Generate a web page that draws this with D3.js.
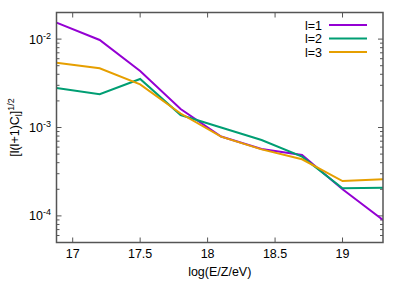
<!DOCTYPE html>
<html>
<head>
<meta charset="utf-8">
<script src="https://cdn.jsdelivr.net/npm/d3@7"></script>
<style>
  body { margin: 0; background: #fff; }
  text { font-family: "Liberation Sans", Arial, sans-serif; fill: #000; }
</style>
</head>
<body>
<script>
// energy bins, log10(E/Z/eV)
let energies = [16.88, 17.2, 17.5, 17.8, 18.1, 18.4, 18.7, 19.0, 19.3]
let l1 = [0.01535, 0.00977, 0.00436, 0.00162, 0.00079, 0.00057, 0.000489, 0.000200, 0.0000900]
let l2 = [0.00280, 0.00238, 0.00354, 0.001385, 0.00100, 0.000722, 0.000468, 0.000205, 0.000208]
let l3 = [0.00541, 0.00468, 0.00308, 0.00144, 0.000787, 0.000566, 0.000437, 0.000248, 0.000260]
let seriesNames = ['l=1', 'l=2', 'l=3']
let xTicks = [17, 17.5, 18, 18.5, 19]
let yTicks = [1e-2, 1e-3, 1e-4]

let colors = ['#9400d3', '#009e73', '#e69f00']

let width = 407, height = 285
let margin = { left: 56.5, right: 24, top: 12.5, bottom: 42.5 }

let svg = d3
  .select('body')
  .append('svg')
  .attr('width', width)
  .attr('height', height)

let x = d3
  .scaleLinear()
  .domain([16.88, 19.3])
  .range([margin.left, width - margin.right])

let y = d3
  .scaleLog()
  .domain([5e-5, 2e-2])
  .range([height - margin.bottom, margin.top])

let series = [l1, l2, l3].map((vals, i) => ({
  name: seriesNames[i],
  color: colors[i],
  points: vals.map((v, j) => [energies[j], v])
}))

// minor log ticks 2..9 per decade
let minorTicks = []
for (let e = -5; e <= -2; e++) {
  for (let m = 2; m <= 9; m++) {
    let v = m * Math.pow(10, e)
    if (v >= 5e-5 && v <= 2e-2) minorTicks.push(v)
  }
}

let tickColor = '#555'
let ticks = svg.append('g').attr('stroke', tickColor).attr('stroke-width', 1)

xTicks.forEach((t) => {
  ticks.append('line')
    .attr('x1', x(t)).attr('x2', x(t))
    .attr('y1', y.range()[0]).attr('y2', y.range()[0] - 5)
  ticks.append('line')
    .attr('x1', x(t)).attr('x2', x(t))
    .attr('y1', y.range()[1]).attr('y2', y.range()[1] + 5)
})

yTicks.forEach((t) => {
  ticks.append('line')
    .attr('x1', x.range()[0]).attr('x2', x.range()[0] + 5)
    .attr('y1', y(t)).attr('y2', y(t))
  ticks.append('line')
    .attr('x1', x.range()[1]).attr('x2', x.range()[1] - 5)
    .attr('y1', y(t)).attr('y2', y(t))
})

minorTicks.forEach((t) => {
  ticks.append('line')
    .attr('x1', x.range()[0]).attr('x2', x.range()[0] + 3)
    .attr('y1', y(t)).attr('y2', y(t))
  ticks.append('line')
    .attr('x1', x.range()[1]).attr('x2', x.range()[1] - 3)
    .attr('y1', y(t)).attr('y2', y(t))
})

svg.append('clipPath')
  .attr('id', 'clip')
  .append('rect')
  .attr('x', x.range()[0])
  .attr('y', y.range()[1])
  .attr('width', x.range()[1] - x.range()[0])
  .attr('height', y.range()[0] - y.range()[1])

let line = d3.line()
  .x((d) => x(d[0]))
  .y((d) => y(d[1]))

svg.append('g')
  .attr('clip-path', 'url(#clip)')
  .selectAll('path')
  .data(series)
  .join('path')
  .attr('d', (d) => line(d.points))
  .attr('fill', 'none')
  .attr('stroke', (d) => d.color)
  .attr('stroke-width', 2)
  .attr('stroke-linejoin', 'miter')

// border
svg.append('rect')
  .attr('x', x.range()[0])
  .attr('y', y.range()[1])
  .attr('width', x.range()[1] - x.range()[0])
  .attr('height', y.range()[0] - y.range()[1])
  .attr('fill', 'none')
  .attr('stroke', tickColor)
  .attr('stroke-width', 1.5)

// x tick labels
svg.append('g')
  .selectAll('text')
  .data(xTicks)
  .join('text')
  .attr('x', (d) => x(d))
  .attr('y', 258)
  .attr('text-anchor', 'middle')
  .attr('font-size', 12.5)
  .text((d) => d)

// y tick labels 10^n
let yl = svg.append('g')
  .selectAll('text')
  .data(yTicks)
  .join('text')
  .attr('x', 51)
  .attr('y', (d) => y(d) + 4.5)
  .attr('text-anchor', 'end')
  .attr('font-size', 12.5)
yl.append('tspan').text('10')
yl.append('tspan')
  .attr('font-size', 9)
  .attr('dy', -5)
  .text((d) => Math.round(Math.log10(d)))

// axis titles
svg.append('text')
  .attr('x', (x.range()[0] + x.range()[1]) / 2)
  .attr('y', 276)
  .attr('text-anchor', 'middle')
  .attr('font-size', 12.5)
  .text('log(E/Z/eV)')

let ylab = svg.append('text')
  .attr('transform', 'translate(19,' + ((y.range()[0] + y.range()[1]) / 2) + ') rotate(-90)')
  .attr('text-anchor', 'middle')
  .attr('font-size', 12.5)
ylab.append('tspan').text('[l(l+1)C')
ylab.append('tspan').attr('font-size', 9).attr('dy', 3).text('l')
ylab.append('tspan').attr('dy', -3).text(']')
ylab.append('tspan').attr('font-size', 9).attr('dy', -5).text('1/2')

// legend
let legend = svg.append('g')
  .selectAll('g')
  .data(series)
  .join('g')
  .attr('transform', (d, i) => 'translate(0,' + (25 + i * 13.5) + ')')

legend.append('text')
  .attr('x', 322)
  .attr('y', 4.5)
  .attr('text-anchor', 'end')
  .attr('font-size', 12.5)
  .text((d) => d.name)

legend.append('line')
  .attr('x1', 329)
  .attr('x2', 367)
  .attr('stroke', (d) => d.color)
  .attr('stroke-width', 2)
</script>
</body>
</html>
